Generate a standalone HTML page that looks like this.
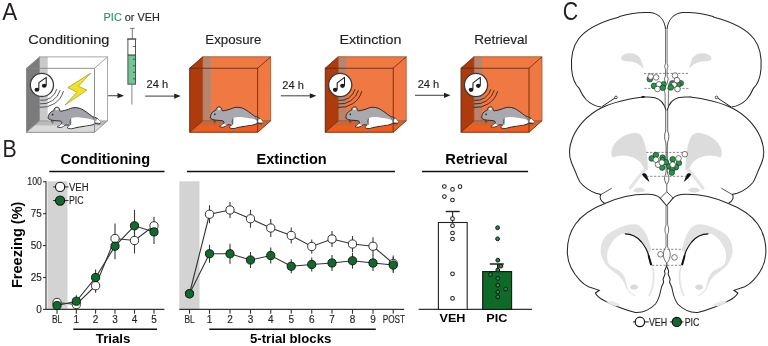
<!DOCTYPE html>
<html><head><meta charset="utf-8"><style>
html,body{margin:0;padding:0;background:#fff;}
body{width:768px;height:346px;overflow:hidden;}
svg{display:block;font-family:"Liberation Sans", sans-serif;will-change:transform;}
</style></head><body>
<svg width="768" height="346" viewBox="0 0 768 346">
<rect width="768" height="346" fill="#fff"/>
<text x="2.2" y="20.2" font-size="24" font-weight="normal" fill="#231f20" text-anchor="start" textLength="15.0" lengthAdjust="spacingAndGlyphs" >A</text>
<text x="28.2" y="43.8" font-size="13" font-weight="normal" fill="#231f20" text-anchor="start" textLength="81.2" lengthAdjust="spacingAndGlyphs" stroke="#231f20" stroke-width="0.15" >Conditioning</text>
<text x="205.3" y="43.8" font-size="13" font-weight="normal" fill="#231f20" text-anchor="start" textLength="56" lengthAdjust="spacingAndGlyphs" stroke="#231f20" stroke-width="0.15" >Exposure</text>
<text x="339.4" y="43.8" font-size="13" font-weight="normal" fill="#231f20" text-anchor="start" textLength="62" lengthAdjust="spacingAndGlyphs" stroke="#231f20" stroke-width="0.15" >Extinction</text>
<text x="474.3" y="43.8" font-size="13" font-weight="normal" fill="#231f20" text-anchor="start" textLength="53.3" lengthAdjust="spacingAndGlyphs" stroke="#231f20" stroke-width="0.15" >Retrieval</text>
<text x="103.6" y="21" font-size="11.8" fill="#231f20" stroke="#231f20" stroke-width="0.15" textLength="56.3" lengthAdjust="spacingAndGlyphs"><tspan fill="#2f9463" stroke="#2f9463">PIC</tspan> or VEH</text>
<text x="146.6" y="88.4" font-size="10.6" font-weight="normal" fill="#231f20" text-anchor="start" textLength="21.6" lengthAdjust="spacingAndGlyphs" stroke="#231f20" stroke-width="0.15" >24 h</text>
<text x="282.3" y="88.9" font-size="10.6" font-weight="normal" fill="#231f20" text-anchor="start" textLength="21.6" lengthAdjust="spacingAndGlyphs" stroke="#231f20" stroke-width="0.15" >24 h</text>
<text x="417.7" y="88.4" font-size="10.6" font-weight="normal" fill="#231f20" text-anchor="start" textLength="21.6" lengthAdjust="spacingAndGlyphs" stroke="#231f20" stroke-width="0.15" >24 h</text>
<line x1="108.2" y1="95.7" x2="119" y2="95.7" stroke="#4d4d4d" stroke-width="1.1"/>
<polygon points="117.5,93.10000000000001 124,95.7 117.5,98.3" fill="#231f20"/>
<line x1="145.1" y1="96.1" x2="175.7" y2="96.1" stroke="#4d4d4d" stroke-width="1.1"/>
<polygon points="174.2,93.5 180.7,96.1 174.2,98.69999999999999" fill="#231f20"/>
<line x1="280.8" y1="95.8" x2="311.3" y2="95.8" stroke="#4d4d4d" stroke-width="1.1"/>
<polygon points="309.8,93.2 316.3,95.8 309.8,98.39999999999999" fill="#231f20"/>
<line x1="415" y1="95.3" x2="445.5" y2="95.3" stroke="#4d4d4d" stroke-width="1.1"/>
<polygon points="444.0,92.7 450.5,95.3 444.0,97.89999999999999" fill="#231f20"/>
<g stroke="#555" stroke-width="0.8" fill="none">
<line x1="130.1" y1="28.4" x2="134.5" y2="28.4"/>
<line x1="132.3" y1="28.4" x2="132.3" y2="39"/>
</g>
<rect x="127.9" y="55" width="7.6" height="29.2" fill="#74c596"/>
<rect x="127.9" y="39" width="7.6" height="45.2" fill="none" stroke="#444" stroke-width="0.9"/>
<line x1="127" y1="39" x2="136.4" y2="39" stroke="#444" stroke-width="0.9"/>
<line x1="127.9" y1="55" x2="135.5" y2="55" stroke="#333" stroke-width="1"/>
<line x1="132.9" y1="46.5" x2="135.5" y2="46.5" stroke="#333" stroke-width="0.7"/>
<line x1="132.9" y1="59.3" x2="135.5" y2="59.3" stroke="#333" stroke-width="0.7"/>
<line x1="132.9" y1="65.8" x2="135.5" y2="65.8" stroke="#333" stroke-width="0.7"/>
<line x1="132.9" y1="72.3" x2="135.5" y2="72.3" stroke="#333" stroke-width="0.7"/>
<line x1="132.9" y1="78.8" x2="135.5" y2="78.8" stroke="#333" stroke-width="0.7"/>
<line x1="131.9" y1="84.2" x2="131.9" y2="104.5" stroke="#777" stroke-width="0.9"/>
<defs><linearGradient id="fl26" x1="0" y1="0" x2="0" y2="1"><stop offset="0" stop-color="#b9b9b9"/><stop offset="0.33" stop-color="#b9b9b9"/><stop offset="0.45" stop-color="#dadada"/><stop offset="1" stop-color="#dadada"/></linearGradient></defs>
<polygon points="26.5,68.3 39.5,56.9 107.5,56.9 107.5,120.9 94.5,132.3 26.5,132.3" fill="#ffffff"/>
<rect x="39.5" y="56.9" width="8.2" height="64" fill="#c9c9c9"/>
<polygon points="26.5,68.3 39.5,56.9 39.5,120.9 26.5,132.3" fill="#7b7b7d"/>
<polygon points="26.5,132.3 39.5,120.9 107.5,120.9 94.5,132.3" fill="url(#fl26)"/>
<rect x="39.5" y="56.9" width="68" height="64" fill="none" stroke="#8c8c8c" stroke-width="0.75"/>
<g stroke="#8a8a8a" stroke-width="0.8" fill="none">
<line x1="26.5" y1="68.3" x2="39.5" y2="56.9"/>
<line x1="94.5" y1="68.3" x2="107.5" y2="56.9"/>
<line x1="94.5" y1="132.3" x2="107.5" y2="120.9"/>
<line x1="26.5" y1="132.3" x2="39.5" y2="120.9"/>
</g>
<path d="M56.80,89.17 A15.5,15.5 0 0 1 40.28,100.32" fill="none" stroke="#333" stroke-width="0.8"/>
<path d="M60.16,90.14 A19,19 0 0 1 39.91,103.80" fill="none" stroke="#333" stroke-width="0.8"/>
<path d="M63.53,91.10 A22.5,22.5 0 0 1 39.55,107.28" fill="none" stroke="#333" stroke-width="0.8"/>
<circle cx="41.9" cy="84.9" r="11.6" fill="#fff" stroke="#3a3a3a" stroke-width="1.3"/>
<ellipse cx="36.9" cy="89.75" rx="2.35" ry="2.05" fill="#1a1a1a"/>
<ellipse cx="44.199999999999996" cy="85.75" rx="2.35" ry="2.05" fill="#1a1a1a"/>
<path d="M38.8,89.5 L38.9,82.7 L46.199999999999996,77.30000000000001 L46.199999999999996,85.5" fill="none" stroke="#1a1a1a" stroke-width="1.05" stroke-linejoin="round"/>
<polygon points="90.7,73.1 67.9,87.6 77,92.3 64.9,105.1 86.9,90.1 78.3,86.2" fill="#f2e41c" stroke="#8a8530" stroke-width="0.6" stroke-linejoin="round"/>
<path d="M48.20,117.40 C48.22,116.93 48.45,116.13 48.60,115.60 C48.75,115.07 48.75,114.77 49.10,114.20 C49.45,113.63 50.10,112.73 50.70,112.20 C51.30,111.67 52.18,111.30 52.70,111.00 C53.22,110.70 53.55,110.77 53.80,110.40 C54.05,110.03 53.93,109.27 54.20,108.80 C54.47,108.33 54.93,107.87 55.40,107.60 C55.87,107.33 56.47,107.17 57.00,107.20 C57.53,107.23 58.18,107.47 58.60,107.80 C59.02,108.13 59.30,108.73 59.50,109.20 C59.70,109.67 59.58,110.28 59.80,110.60 C60.02,110.92 60.03,111.12 60.80,111.10 C61.57,111.08 63.12,110.80 64.40,110.50 C65.68,110.20 67.13,109.75 68.50,109.30 C69.87,108.85 71.05,108.05 72.60,107.80 C74.15,107.55 76.07,107.47 77.80,107.80 C79.53,108.13 81.12,108.75 83.00,109.80 C84.88,110.85 87.50,112.97 89.10,114.10 C90.70,115.23 91.73,116.12 92.60,116.60 C93.47,117.08 93.43,116.62 94.30,117.00 C95.17,117.38 96.85,118.12 97.80,118.90 C98.75,119.68 99.70,120.85 100.00,121.70 C100.30,122.55 100.03,123.65 99.60,124.00 C99.17,124.35 98.13,123.87 97.40,123.80 C96.67,123.73 96.00,123.43 95.20,123.60 C94.40,123.77 94.20,124.40 92.60,124.80 C91.00,125.20 87.92,125.60 85.60,126.00 C83.28,126.40 80.52,126.87 78.70,127.20 C76.88,127.53 75.85,127.75 74.70,128.00 C73.55,128.25 72.87,128.63 71.80,128.70 C70.73,128.77 69.03,128.65 68.30,128.40 C67.57,128.15 67.22,127.67 67.40,127.20 C67.58,126.73 69.52,125.97 69.40,125.60 C69.28,125.23 67.37,125.07 66.70,125.00 C66.03,124.93 65.92,125.02 65.40,125.20 C64.88,125.38 64.30,125.75 63.60,126.10 C62.90,126.45 62.22,127.15 61.20,127.30 C60.18,127.45 58.00,127.15 57.50,127.00 C57.00,126.85 57.75,126.72 58.20,126.40 C58.65,126.08 59.60,125.72 60.20,125.10 C60.80,124.48 61.77,123.37 61.80,122.70 C61.83,122.03 61.32,121.43 60.40,121.10 C59.48,120.77 57.65,120.83 56.30,120.70 C54.95,120.57 53.43,120.50 52.30,120.30 C51.17,120.10 50.13,119.82 49.50,119.50 C48.87,119.18 48.72,118.75 48.50,118.40 C48.28,118.05 48.18,117.87 48.20,117.40 Z" fill="#a2a3ab" stroke="#1e1e1e" stroke-width="0.9" stroke-linejoin="round"/>
<path d="M70.90,118.70 C71.37,117.88 72.82,117.70 74.40,117.50 C75.98,117.30 78.23,117.32 80.40,117.50 C82.57,117.68 85.37,118.22 87.40,118.60 C89.43,118.98 91.22,119.40 92.60,119.80 C93.98,120.20 94.83,121.13 95.70,121.00 C96.57,120.87 97.02,118.87 97.80,119.00 C98.58,119.13 100.03,121.13 100.40,121.80 C100.77,122.47 100.43,122.90 100.00,123.00 C99.57,123.10 98.60,122.50 97.80,122.40 C97.00,122.30 96.10,122.10 95.20,122.40 C94.30,122.70 94.00,123.68 92.40,124.20 C90.80,124.72 87.88,125.10 85.60,125.50 C83.32,125.90 80.43,126.32 78.70,126.60 C76.97,126.88 76.35,126.92 75.20,127.20 C74.05,127.48 72.90,128.17 71.80,128.30 C70.70,128.43 69.25,128.20 68.60,128.00 C67.95,127.80 67.67,127.57 67.90,127.10 C68.13,126.63 69.38,125.98 70.00,125.20 C70.62,124.42 71.45,123.48 71.60,122.40 C71.75,121.32 70.43,119.52 70.90,118.70 Z" fill="#fff"/>
<polygon points="58.00,126.70 59.80,125.40 61.50,124.00 63.20,125.00 64.80,125.50 61.20,126.90" fill="#fff"/>
<path d="M70.90,118.70 Q69.20,121.90 70.60,125.00" fill="none" stroke="#2a2a2a" stroke-width="0.65"/>
<path d="M92.80,116.80 Q94.40,120.00 95.40,122.60" fill="none" stroke="#555" stroke-width="0.5"/>
<ellipse cx="56.90" cy="109.20" rx="1.9" ry="1.5" fill="#f4f4f4" stroke="#666" stroke-width="0.4"/>
<circle cx="52.60" cy="114.60" r="0.85" fill="#222"/>
<path d="M48.60,117.60 l-1.6,0.6 M49.60,118.40 l-1.2,1.5" stroke="#333" stroke-width="0.4"/>
<path d="M51.40,120.00 l1.0,3.6 M52.80,120.20 l0.4,2.6" stroke="#4a2a20" stroke-width="0.8" opacity="0.75"/>
<g stroke="#8a8a8a" stroke-width="0.95" fill="none">
<rect x="26.5" y="68.3" width="68" height="64"/>
</g>
<defs><linearGradient id="fl189" x1="0" y1="0" x2="0" y2="1"><stop offset="0" stop-color="#c4693e"/><stop offset="0.33" stop-color="#c4693e"/><stop offset="0.45" stop-color="#f25d1e"/><stop offset="1" stop-color="#f25d1e"/></linearGradient></defs>
<polygon points="189.7,68.2 202.7,56.800000000000004 270.7,56.800000000000004 270.7,120.79999999999998 257.7,132.2 189.7,132.2" fill="#f07843"/>
<rect x="202.7" y="56.800000000000004" width="8.2" height="64" fill="#b8846e"/>
<polygon points="189.7,68.2 202.7,56.800000000000004 202.7,120.79999999999998 189.7,132.2" fill="#ad3b0d"/>
<polygon points="189.7,132.2 202.7,120.79999999999998 270.7,120.79999999999998 257.7,132.2" fill="url(#fl189)"/>
<rect x="202.7" y="56.800000000000004" width="68" height="64" fill="none" stroke="#a3532c" stroke-width="0.75"/>
<g stroke="#5e2810" stroke-width="0.8" fill="none">
<line x1="189.7" y1="68.2" x2="202.7" y2="56.800000000000004"/>
<line x1="257.7" y1="68.2" x2="270.7" y2="56.800000000000004"/>
<line x1="257.7" y1="132.2" x2="270.7" y2="120.79999999999998"/>
<line x1="189.7" y1="132.2" x2="202.7" y2="120.79999999999998"/>
</g>
<path d="M210.40,117.10 C210.42,116.63 210.65,115.83 210.80,115.30 C210.95,114.77 210.95,114.47 211.30,113.90 C211.65,113.33 212.30,112.43 212.90,111.90 C213.50,111.37 214.38,111.00 214.90,110.70 C215.42,110.40 215.75,110.47 216.00,110.10 C216.25,109.73 216.13,108.97 216.40,108.50 C216.67,108.03 217.13,107.57 217.60,107.30 C218.07,107.03 218.67,106.87 219.20,106.90 C219.73,106.93 220.38,107.17 220.80,107.50 C221.22,107.83 221.50,108.43 221.70,108.90 C221.90,109.37 221.78,109.98 222.00,110.30 C222.22,110.62 222.23,110.82 223.00,110.80 C223.77,110.78 225.32,110.50 226.60,110.20 C227.88,109.90 229.33,109.45 230.70,109.00 C232.07,108.55 233.25,107.75 234.80,107.50 C236.35,107.25 238.27,107.17 240.00,107.50 C241.73,107.83 243.32,108.45 245.20,109.50 C247.08,110.55 249.70,112.67 251.30,113.80 C252.90,114.93 253.93,115.82 254.80,116.30 C255.67,116.78 255.63,116.32 256.50,116.70 C257.37,117.08 259.05,117.82 260.00,118.60 C260.95,119.38 261.90,120.55 262.20,121.40 C262.50,122.25 262.23,123.35 261.80,123.70 C261.37,124.05 260.33,123.57 259.60,123.50 C258.87,123.43 258.20,123.13 257.40,123.30 C256.60,123.47 256.40,124.10 254.80,124.50 C253.20,124.90 250.12,125.30 247.80,125.70 C245.48,126.10 242.72,126.57 240.90,126.90 C239.08,127.23 238.05,127.45 236.90,127.70 C235.75,127.95 235.07,128.33 234.00,128.40 C232.93,128.47 231.23,128.35 230.50,128.10 C229.77,127.85 229.42,127.37 229.60,126.90 C229.78,126.43 231.72,125.67 231.60,125.30 C231.48,124.93 229.57,124.77 228.90,124.70 C228.23,124.63 228.12,124.72 227.60,124.90 C227.08,125.08 226.50,125.45 225.80,125.80 C225.10,126.15 224.42,126.85 223.40,127.00 C222.38,127.15 220.20,126.85 219.70,126.70 C219.20,126.55 219.95,126.42 220.40,126.10 C220.85,125.78 221.80,125.42 222.40,124.80 C223.00,124.18 223.97,123.07 224.00,122.40 C224.03,121.73 223.52,121.13 222.60,120.80 C221.68,120.47 219.85,120.53 218.50,120.40 C217.15,120.27 215.63,120.20 214.50,120.00 C213.37,119.80 212.33,119.52 211.70,119.20 C211.07,118.88 210.92,118.45 210.70,118.10 C210.48,117.75 210.38,117.57 210.40,117.10 Z" fill="#a8a9ae" stroke="#1e1e1e" stroke-width="0.9" stroke-linejoin="round"/>
<path d="M233.10,118.40 C233.57,117.58 235.02,117.40 236.60,117.20 C238.18,117.00 240.43,117.02 242.60,117.20 C244.77,117.38 247.57,117.92 249.60,118.30 C251.63,118.68 253.42,119.10 254.80,119.50 C256.18,119.90 257.03,120.83 257.90,120.70 C258.77,120.57 259.22,118.57 260.00,118.70 C260.78,118.83 262.23,120.83 262.60,121.50 C262.97,122.17 262.63,122.60 262.20,122.70 C261.77,122.80 260.80,122.20 260.00,122.10 C259.20,122.00 258.30,121.80 257.40,122.10 C256.50,122.40 256.20,123.38 254.60,123.90 C253.00,124.42 250.08,124.80 247.80,125.20 C245.52,125.60 242.63,126.02 240.90,126.30 C239.17,126.58 238.55,126.62 237.40,126.90 C236.25,127.18 235.10,127.87 234.00,128.00 C232.90,128.13 231.45,127.90 230.80,127.70 C230.15,127.50 229.87,127.27 230.10,126.80 C230.33,126.33 231.58,125.68 232.20,124.90 C232.82,124.12 233.65,123.18 233.80,122.10 C233.95,121.02 232.63,119.22 233.10,118.40 Z" fill="#fff"/>
<polygon points="220.20,126.40 222.00,125.10 223.70,123.70 225.40,124.70 227.00,125.20 223.40,126.60" fill="#fff"/>
<path d="M233.10,118.40 Q231.40,121.60 232.80,124.70" fill="none" stroke="#2a2a2a" stroke-width="0.65"/>
<path d="M255.00,116.50 Q256.60,119.70 257.60,122.30" fill="none" stroke="#555" stroke-width="0.5"/>
<ellipse cx="219.10" cy="108.90" rx="1.9" ry="1.5" fill="#f4f4f4" stroke="#666" stroke-width="0.4"/>
<circle cx="214.80" cy="114.30" r="0.85" fill="#222"/>
<path d="M210.80,117.30 l-1.6,0.6 M211.80,118.10 l-1.2,1.5" stroke="#333" stroke-width="0.4"/>
<path d="M213.60,119.70 l1.0,3.6 M215.00,119.90 l0.4,2.6" stroke="#4a2a20" stroke-width="0.8" opacity="0.75"/>
<g stroke="#5e2810" stroke-width="0.85" fill="none">
<rect x="189.7" y="68.2" width="68" height="64"/>
</g>
<defs><linearGradient id="fl325" x1="0" y1="0" x2="0" y2="1"><stop offset="0" stop-color="#c4693e"/><stop offset="0.33" stop-color="#c4693e"/><stop offset="0.45" stop-color="#f25d1e"/><stop offset="1" stop-color="#f25d1e"/></linearGradient></defs>
<polygon points="325.2,68.2 338.2,56.800000000000004 406.2,56.800000000000004 406.2,120.79999999999998 393.2,132.2 325.2,132.2" fill="#f07843"/>
<rect x="338.2" y="56.800000000000004" width="8.2" height="64" fill="#b8846e"/>
<polygon points="325.2,68.2 338.2,56.800000000000004 338.2,120.79999999999998 325.2,132.2" fill="#ad3b0d"/>
<polygon points="325.2,132.2 338.2,120.79999999999998 406.2,120.79999999999998 393.2,132.2" fill="url(#fl325)"/>
<rect x="338.2" y="56.800000000000004" width="68" height="64" fill="none" stroke="#a3532c" stroke-width="0.75"/>
<g stroke="#5e2810" stroke-width="0.8" fill="none">
<line x1="325.2" y1="68.2" x2="338.2" y2="56.800000000000004"/>
<line x1="393.2" y1="68.2" x2="406.2" y2="56.800000000000004"/>
<line x1="393.2" y1="132.2" x2="406.2" y2="120.79999999999998"/>
<line x1="325.2" y1="132.2" x2="338.2" y2="120.79999999999998"/>
</g>
<path d="M355.10,89.27 A15.5,15.5 0 0 1 338.58,100.42" fill="none" stroke="#2b1208" stroke-width="0.8"/>
<path d="M358.46,90.24 A19,19 0 0 1 338.21,103.90" fill="none" stroke="#2b1208" stroke-width="0.8"/>
<path d="M361.83,91.20 A22.5,22.5 0 0 1 337.85,107.38" fill="none" stroke="#2b1208" stroke-width="0.8"/>
<circle cx="340.2" cy="85.0" r="11.6" fill="#fff" stroke="#3a3a3a" stroke-width="1.3"/>
<ellipse cx="335.2" cy="89.85" rx="2.35" ry="2.05" fill="#1a1a1a"/>
<ellipse cx="342.5" cy="85.85" rx="2.35" ry="2.05" fill="#1a1a1a"/>
<path d="M337.09999999999997,89.6 L337.2,82.8 L344.5,77.4 L344.5,85.6" fill="none" stroke="#1a1a1a" stroke-width="1.05" stroke-linejoin="round"/>
<path d="M345.90,117.10 C345.92,116.63 346.15,115.83 346.30,115.30 C346.45,114.77 346.45,114.47 346.80,113.90 C347.15,113.33 347.80,112.43 348.40,111.90 C349.00,111.37 349.88,111.00 350.40,110.70 C350.92,110.40 351.25,110.47 351.50,110.10 C351.75,109.73 351.63,108.97 351.90,108.50 C352.17,108.03 352.63,107.57 353.10,107.30 C353.57,107.03 354.17,106.87 354.70,106.90 C355.23,106.93 355.88,107.17 356.30,107.50 C356.72,107.83 357.00,108.43 357.20,108.90 C357.40,109.37 357.28,109.98 357.50,110.30 C357.72,110.62 357.73,110.82 358.50,110.80 C359.27,110.78 360.82,110.50 362.10,110.20 C363.38,109.90 364.83,109.45 366.20,109.00 C367.57,108.55 368.75,107.75 370.30,107.50 C371.85,107.25 373.77,107.17 375.50,107.50 C377.23,107.83 378.82,108.45 380.70,109.50 C382.58,110.55 385.20,112.67 386.80,113.80 C388.40,114.93 389.43,115.82 390.30,116.30 C391.17,116.78 391.13,116.32 392.00,116.70 C392.87,117.08 394.55,117.82 395.50,118.60 C396.45,119.38 397.40,120.55 397.70,121.40 C398.00,122.25 397.73,123.35 397.30,123.70 C396.87,124.05 395.83,123.57 395.10,123.50 C394.37,123.43 393.70,123.13 392.90,123.30 C392.10,123.47 391.90,124.10 390.30,124.50 C388.70,124.90 385.62,125.30 383.30,125.70 C380.98,126.10 378.22,126.57 376.40,126.90 C374.58,127.23 373.55,127.45 372.40,127.70 C371.25,127.95 370.57,128.33 369.50,128.40 C368.43,128.47 366.73,128.35 366.00,128.10 C365.27,127.85 364.92,127.37 365.10,126.90 C365.28,126.43 367.22,125.67 367.10,125.30 C366.98,124.93 365.07,124.77 364.40,124.70 C363.73,124.63 363.62,124.72 363.10,124.90 C362.58,125.08 362.00,125.45 361.30,125.80 C360.60,126.15 359.92,126.85 358.90,127.00 C357.88,127.15 355.70,126.85 355.20,126.70 C354.70,126.55 355.45,126.42 355.90,126.10 C356.35,125.78 357.30,125.42 357.90,124.80 C358.50,124.18 359.47,123.07 359.50,122.40 C359.53,121.73 359.02,121.13 358.10,120.80 C357.18,120.47 355.35,120.53 354.00,120.40 C352.65,120.27 351.13,120.20 350.00,120.00 C348.87,119.80 347.83,119.52 347.20,119.20 C346.57,118.88 346.42,118.45 346.20,118.10 C345.98,117.75 345.88,117.57 345.90,117.10 Z" fill="#a8a9ae" stroke="#1e1e1e" stroke-width="0.9" stroke-linejoin="round"/>
<path d="M368.60,118.40 C369.07,117.58 370.52,117.40 372.10,117.20 C373.68,117.00 375.93,117.02 378.10,117.20 C380.27,117.38 383.07,117.92 385.10,118.30 C387.13,118.68 388.92,119.10 390.30,119.50 C391.68,119.90 392.53,120.83 393.40,120.70 C394.27,120.57 394.72,118.57 395.50,118.70 C396.28,118.83 397.73,120.83 398.10,121.50 C398.47,122.17 398.13,122.60 397.70,122.70 C397.27,122.80 396.30,122.20 395.50,122.10 C394.70,122.00 393.80,121.80 392.90,122.10 C392.00,122.40 391.70,123.38 390.10,123.90 C388.50,124.42 385.58,124.80 383.30,125.20 C381.02,125.60 378.13,126.02 376.40,126.30 C374.67,126.58 374.05,126.62 372.90,126.90 C371.75,127.18 370.60,127.87 369.50,128.00 C368.40,128.13 366.95,127.90 366.30,127.70 C365.65,127.50 365.37,127.27 365.60,126.80 C365.83,126.33 367.08,125.68 367.70,124.90 C368.32,124.12 369.15,123.18 369.30,122.10 C369.45,121.02 368.13,119.22 368.60,118.40 Z" fill="#fff"/>
<polygon points="355.70,126.40 357.50,125.10 359.20,123.70 360.90,124.70 362.50,125.20 358.90,126.60" fill="#fff"/>
<path d="M368.60,118.40 Q366.90,121.60 368.30,124.70" fill="none" stroke="#2a2a2a" stroke-width="0.65"/>
<path d="M390.50,116.50 Q392.10,119.70 393.10,122.30" fill="none" stroke="#555" stroke-width="0.5"/>
<ellipse cx="354.60" cy="108.90" rx="1.9" ry="1.5" fill="#f4f4f4" stroke="#666" stroke-width="0.4"/>
<circle cx="350.30" cy="114.30" r="0.85" fill="#222"/>
<path d="M346.30,117.30 l-1.6,0.6 M347.30,118.10 l-1.2,1.5" stroke="#333" stroke-width="0.4"/>
<path d="M349.10,119.70 l1.0,3.6 M350.50,119.90 l0.4,2.6" stroke="#4a2a20" stroke-width="0.8" opacity="0.75"/>
<g stroke="#5e2810" stroke-width="0.85" fill="none">
<rect x="325.2" y="68.2" width="68" height="64"/>
</g>
<defs><linearGradient id="fl461" x1="0" y1="0" x2="0" y2="1"><stop offset="0" stop-color="#c4693e"/><stop offset="0.33" stop-color="#c4693e"/><stop offset="0.45" stop-color="#f25d1e"/><stop offset="1" stop-color="#f25d1e"/></linearGradient></defs>
<polygon points="461.0,68.2 474.0,56.800000000000004 542.0,56.800000000000004 542.0,120.79999999999998 529.0,132.2 461.0,132.2" fill="#f07843"/>
<rect x="474.0" y="56.800000000000004" width="8.2" height="64" fill="#b8846e"/>
<polygon points="461.0,68.2 474.0,56.800000000000004 474.0,120.79999999999998 461.0,132.2" fill="#ad3b0d"/>
<polygon points="461.0,132.2 474.0,120.79999999999998 542.0,120.79999999999998 529.0,132.2" fill="url(#fl461)"/>
<rect x="474.0" y="56.800000000000004" width="68" height="64" fill="none" stroke="#a3532c" stroke-width="0.75"/>
<g stroke="#5e2810" stroke-width="0.8" fill="none">
<line x1="461.0" y1="68.2" x2="474.0" y2="56.800000000000004"/>
<line x1="529.0" y1="68.2" x2="542.0" y2="56.800000000000004"/>
<line x1="529.0" y1="132.2" x2="542.0" y2="120.79999999999998"/>
<line x1="461.0" y1="132.2" x2="474.0" y2="120.79999999999998"/>
</g>
<path d="M490.90,89.27 A15.5,15.5 0 0 1 474.38,100.42" fill="none" stroke="#2b1208" stroke-width="0.8"/>
<path d="M494.26,90.24 A19,19 0 0 1 474.01,103.90" fill="none" stroke="#2b1208" stroke-width="0.8"/>
<path d="M497.63,91.20 A22.5,22.5 0 0 1 473.65,107.38" fill="none" stroke="#2b1208" stroke-width="0.8"/>
<circle cx="476.0" cy="85.0" r="11.6" fill="#fff" stroke="#3a3a3a" stroke-width="1.3"/>
<ellipse cx="471.0" cy="89.85" rx="2.35" ry="2.05" fill="#1a1a1a"/>
<ellipse cx="478.3" cy="85.85" rx="2.35" ry="2.05" fill="#1a1a1a"/>
<path d="M472.9,89.6 L473.0,82.8 L480.3,77.4 L480.3,85.6" fill="none" stroke="#1a1a1a" stroke-width="1.05" stroke-linejoin="round"/>
<path d="M481.70,117.10 C481.72,116.63 481.95,115.83 482.10,115.30 C482.25,114.77 482.25,114.47 482.60,113.90 C482.95,113.33 483.60,112.43 484.20,111.90 C484.80,111.37 485.68,111.00 486.20,110.70 C486.72,110.40 487.05,110.47 487.30,110.10 C487.55,109.73 487.43,108.97 487.70,108.50 C487.97,108.03 488.43,107.57 488.90,107.30 C489.37,107.03 489.97,106.87 490.50,106.90 C491.03,106.93 491.68,107.17 492.10,107.50 C492.52,107.83 492.80,108.43 493.00,108.90 C493.20,109.37 493.08,109.98 493.30,110.30 C493.52,110.62 493.53,110.82 494.30,110.80 C495.07,110.78 496.62,110.50 497.90,110.20 C499.18,109.90 500.63,109.45 502.00,109.00 C503.37,108.55 504.55,107.75 506.10,107.50 C507.65,107.25 509.57,107.17 511.30,107.50 C513.03,107.83 514.62,108.45 516.50,109.50 C518.38,110.55 521.00,112.67 522.60,113.80 C524.20,114.93 525.23,115.82 526.10,116.30 C526.97,116.78 526.93,116.32 527.80,116.70 C528.67,117.08 530.35,117.82 531.30,118.60 C532.25,119.38 533.20,120.55 533.50,121.40 C533.80,122.25 533.53,123.35 533.10,123.70 C532.67,124.05 531.63,123.57 530.90,123.50 C530.17,123.43 529.50,123.13 528.70,123.30 C527.90,123.47 527.70,124.10 526.10,124.50 C524.50,124.90 521.42,125.30 519.10,125.70 C516.78,126.10 514.02,126.57 512.20,126.90 C510.38,127.23 509.35,127.45 508.20,127.70 C507.05,127.95 506.37,128.33 505.30,128.40 C504.23,128.47 502.53,128.35 501.80,128.10 C501.07,127.85 500.72,127.37 500.90,126.90 C501.08,126.43 503.02,125.67 502.90,125.30 C502.78,124.93 500.87,124.77 500.20,124.70 C499.53,124.63 499.42,124.72 498.90,124.90 C498.38,125.08 497.80,125.45 497.10,125.80 C496.40,126.15 495.72,126.85 494.70,127.00 C493.68,127.15 491.50,126.85 491.00,126.70 C490.50,126.55 491.25,126.42 491.70,126.10 C492.15,125.78 493.10,125.42 493.70,124.80 C494.30,124.18 495.27,123.07 495.30,122.40 C495.33,121.73 494.82,121.13 493.90,120.80 C492.98,120.47 491.15,120.53 489.80,120.40 C488.45,120.27 486.93,120.20 485.80,120.00 C484.67,119.80 483.63,119.52 483.00,119.20 C482.37,118.88 482.22,118.45 482.00,118.10 C481.78,117.75 481.68,117.57 481.70,117.10 Z" fill="#a8a9ae" stroke="#1e1e1e" stroke-width="0.9" stroke-linejoin="round"/>
<path d="M504.40,118.40 C504.87,117.58 506.32,117.40 507.90,117.20 C509.48,117.00 511.73,117.02 513.90,117.20 C516.07,117.38 518.87,117.92 520.90,118.30 C522.93,118.68 524.72,119.10 526.10,119.50 C527.48,119.90 528.33,120.83 529.20,120.70 C530.07,120.57 530.52,118.57 531.30,118.70 C532.08,118.83 533.53,120.83 533.90,121.50 C534.27,122.17 533.93,122.60 533.50,122.70 C533.07,122.80 532.10,122.20 531.30,122.10 C530.50,122.00 529.60,121.80 528.70,122.10 C527.80,122.40 527.50,123.38 525.90,123.90 C524.30,124.42 521.38,124.80 519.10,125.20 C516.82,125.60 513.93,126.02 512.20,126.30 C510.47,126.58 509.85,126.62 508.70,126.90 C507.55,127.18 506.40,127.87 505.30,128.00 C504.20,128.13 502.75,127.90 502.10,127.70 C501.45,127.50 501.17,127.27 501.40,126.80 C501.63,126.33 502.88,125.68 503.50,124.90 C504.12,124.12 504.95,123.18 505.10,122.10 C505.25,121.02 503.93,119.22 504.40,118.40 Z" fill="#fff"/>
<polygon points="491.50,126.40 493.30,125.10 495.00,123.70 496.70,124.70 498.30,125.20 494.70,126.60" fill="#fff"/>
<path d="M504.40,118.40 Q502.70,121.60 504.10,124.70" fill="none" stroke="#2a2a2a" stroke-width="0.65"/>
<path d="M526.30,116.50 Q527.90,119.70 528.90,122.30" fill="none" stroke="#555" stroke-width="0.5"/>
<ellipse cx="490.40" cy="108.90" rx="1.9" ry="1.5" fill="#f4f4f4" stroke="#666" stroke-width="0.4"/>
<circle cx="486.10" cy="114.30" r="0.85" fill="#222"/>
<path d="M482.10,117.30 l-1.6,0.6 M483.10,118.10 l-1.2,1.5" stroke="#333" stroke-width="0.4"/>
<path d="M484.90,119.70 l1.0,3.6 M486.30,119.90 l0.4,2.6" stroke="#4a2a20" stroke-width="0.8" opacity="0.75"/>
<g stroke="#5e2810" stroke-width="0.85" fill="none">
<rect x="461.0" y="68.2" width="68" height="64"/>
</g>
<text x="2.4" y="157.4" font-size="24" font-weight="normal" fill="#231f20" text-anchor="start" textLength="14.2" lengthAdjust="spacingAndGlyphs" >B</text>
<text x="60.5" y="164.3" font-size="14.3" font-weight="bold" fill="#000" text-anchor="start" textLength="89.6" lengthAdjust="spacingAndGlyphs" >Conditioning</text>
<text x="256.5" y="164.3" font-size="14.3" font-weight="bold" fill="#000" text-anchor="start" textLength="70.2" lengthAdjust="spacingAndGlyphs" >Extinction</text>
<text x="445.3" y="164.3" font-size="14.3" font-weight="bold" fill="#000" text-anchor="start" textLength="62.2" lengthAdjust="spacingAndGlyphs" >Retrieval</text>
<line x1="49.3" y1="171.5" x2="164.5" y2="171.5" stroke="#111" stroke-width="1.4"/>
<line x1="187" y1="171.5" x2="395" y2="171.5" stroke="#111" stroke-width="1.4"/>
<line x1="422" y1="171.5" x2="528.1" y2="171.5" stroke="#111" stroke-width="1.4"/>
<line x1="73.3" y1="329.2" x2="157" y2="329.2" stroke="#111" stroke-width="1.6"/>
<line x1="209.3" y1="329.2" x2="375.8" y2="329.2" stroke="#111" stroke-width="1.6"/>
<text x="95.8" y="342.6" font-size="12.5" font-weight="bold" fill="#000" text-anchor="start" textLength="34.6" lengthAdjust="spacingAndGlyphs" >Trials</text>
<text x="250" y="342.6" font-size="12.5" font-weight="bold" fill="#000" text-anchor="start" textLength="81.3" lengthAdjust="spacingAndGlyphs" >5-trial blocks</text>
<text x="439.5" y="322.2" font-size="11.5" font-weight="bold" fill="#000" text-anchor="start" textLength="26" lengthAdjust="spacingAndGlyphs" >VEH</text>
<text x="486.3" y="322.2" font-size="11.5" font-weight="bold" fill="#000" text-anchor="start" textLength="21.2" lengthAdjust="spacingAndGlyphs" >PIC</text>
<text transform="translate(22.1,244.8) rotate(-90)" font-size="15" font-weight="bold" fill="#000" text-anchor="middle" textLength="86.5" lengthAdjust="spacingAndGlyphs">Freezing (%)</text>
<rect x="47.5" y="181.3" width="20" height="128.1" fill="#d3d3d3"/>
<rect x="179.3" y="181.3" width="20.2" height="128.1" fill="#d3d3d3"/>
<g stroke="#333" stroke-width="1.1" fill="none">
<line x1="46" y1="181.2" x2="46" y2="309.4"/>
<line x1="45.5" y1="309.4" x2="164.4" y2="309.4"/>
<line x1="179.3" y1="309.4" x2="404.2" y2="309.4"/>
<line x1="418.7" y1="309.4" x2="532" y2="309.4"/>
<line x1="43" y1="309.40" x2="46" y2="309.40"/>
<line x1="43" y1="277.49" x2="46" y2="277.49"/>
<line x1="43" y1="245.57" x2="46" y2="245.57"/>
<line x1="43" y1="213.66" x2="46" y2="213.66"/>
<line x1="43" y1="181.75" x2="46" y2="181.75"/>
<line x1="57" y1="309.4" x2="57" y2="313.8"/>
<line x1="76.3" y1="309.4" x2="76.3" y2="313.8"/>
<line x1="95.6" y1="309.4" x2="95.6" y2="313.8"/>
<line x1="115" y1="309.4" x2="115" y2="313.8"/>
<line x1="134.5" y1="309.4" x2="134.5" y2="313.8"/>
<line x1="154" y1="309.4" x2="154" y2="313.8"/>
<line x1="189.5" y1="309.4" x2="189.5" y2="313.8"/>
<line x1="209.5" y1="309.4" x2="209.5" y2="313.8"/>
<line x1="230" y1="309.4" x2="230" y2="313.8"/>
<line x1="250.5" y1="309.4" x2="250.5" y2="313.8"/>
<line x1="270.75" y1="309.4" x2="270.75" y2="313.8"/>
<line x1="291.25" y1="309.4" x2="291.25" y2="313.8"/>
<line x1="311.75" y1="309.4" x2="311.75" y2="313.8"/>
<line x1="332" y1="309.4" x2="332" y2="313.8"/>
<line x1="352.5" y1="309.4" x2="352.5" y2="313.8"/>
<line x1="373" y1="309.4" x2="373" y2="313.8"/>
<line x1="393.25" y1="309.4" x2="393.25" y2="313.8"/>
</g>
<text x="41.9" y="313.09999999999997" font-size="10" font-weight="normal" fill="#231f20" text-anchor="end" stroke="#231f20" stroke-width="0.15" >0</text>
<text x="41.9" y="281.18749999999994" font-size="10" font-weight="normal" fill="#231f20" text-anchor="end" stroke="#231f20" stroke-width="0.15" >25</text>
<text x="41.9" y="249.27499999999998" font-size="10" font-weight="normal" fill="#231f20" text-anchor="end" stroke="#231f20" stroke-width="0.15" >50</text>
<text x="41.9" y="217.36249999999995" font-size="10" font-weight="normal" fill="#231f20" text-anchor="end" stroke="#231f20" stroke-width="0.15" >75</text>
<text x="41.9" y="185.45" font-size="10" font-weight="normal" fill="#231f20" text-anchor="end" textLength="14.6" lengthAdjust="spacingAndGlyphs" stroke="#231f20" stroke-width="0.15" >100</text>
<text x="57" y="323.1" font-size="10" font-weight="normal" fill="#231f20" text-anchor="middle" textLength="10.2" lengthAdjust="spacingAndGlyphs" stroke="#231f20" stroke-width="0.15" >BL</text>
<text x="76.3" y="323.1" font-size="10" font-weight="normal" fill="#231f20" text-anchor="middle" stroke="#231f20" stroke-width="0.15" >1</text>
<text x="95.6" y="323.1" font-size="10" font-weight="normal" fill="#231f20" text-anchor="middle" stroke="#231f20" stroke-width="0.15" >2</text>
<text x="115" y="323.1" font-size="10" font-weight="normal" fill="#231f20" text-anchor="middle" stroke="#231f20" stroke-width="0.15" >3</text>
<text x="134.5" y="323.1" font-size="10" font-weight="normal" fill="#231f20" text-anchor="middle" stroke="#231f20" stroke-width="0.15" >4</text>
<text x="154" y="323.1" font-size="10" font-weight="normal" fill="#231f20" text-anchor="middle" stroke="#231f20" stroke-width="0.15" >5</text>
<text x="189.5" y="323.1" font-size="10" font-weight="normal" fill="#231f20" text-anchor="middle" textLength="10.2" lengthAdjust="spacingAndGlyphs" stroke="#231f20" stroke-width="0.15" >BL</text>
<text x="209.5" y="323.1" font-size="10" font-weight="normal" fill="#231f20" text-anchor="middle" stroke="#231f20" stroke-width="0.15" >1</text>
<text x="230" y="323.1" font-size="10" font-weight="normal" fill="#231f20" text-anchor="middle" stroke="#231f20" stroke-width="0.15" >2</text>
<text x="250.5" y="323.1" font-size="10" font-weight="normal" fill="#231f20" text-anchor="middle" stroke="#231f20" stroke-width="0.15" >3</text>
<text x="270.75" y="323.1" font-size="10" font-weight="normal" fill="#231f20" text-anchor="middle" stroke="#231f20" stroke-width="0.15" >4</text>
<text x="291.25" y="323.1" font-size="10" font-weight="normal" fill="#231f20" text-anchor="middle" stroke="#231f20" stroke-width="0.15" >5</text>
<text x="311.75" y="323.1" font-size="10" font-weight="normal" fill="#231f20" text-anchor="middle" stroke="#231f20" stroke-width="0.15" >6</text>
<text x="332" y="323.1" font-size="10" font-weight="normal" fill="#231f20" text-anchor="middle" stroke="#231f20" stroke-width="0.15" >7</text>
<text x="352.5" y="323.1" font-size="10" font-weight="normal" fill="#231f20" text-anchor="middle" stroke="#231f20" stroke-width="0.15" >8</text>
<text x="373" y="323.1" font-size="10" font-weight="normal" fill="#231f20" text-anchor="middle" stroke="#231f20" stroke-width="0.15" >9</text>
<text x="393.85" y="323.1" font-size="10" font-weight="normal" fill="#231f20" text-anchor="middle" textLength="22.4" lengthAdjust="spacingAndGlyphs" stroke="#231f20" stroke-width="0.15" >POST</text>
<g stroke="#3a3a3a" stroke-width="1.1">
<line x1="57" y1="299.5" x2="57" y2="305.5"/>
<line x1="76.3" y1="300.5" x2="76.3" y2="308.5"/>
<line x1="95.6" y1="279.75" x2="95.6" y2="292.75"/>
<line x1="115" y1="223.5" x2="115" y2="250.5"/>
<line x1="134.5" y1="229.5" x2="134.5" y2="253.5"/>
<line x1="154" y1="216.8" x2="154" y2="234.8"/>
<line x1="57" y1="302.5" x2="57" y2="308.5"/>
<line x1="76.3" y1="295.25" x2="76.3" y2="306.25"/>
<line x1="95.6" y1="269.5" x2="95.6" y2="285.5"/>
<line x1="115" y1="234.2" x2="115" y2="259.2"/>
<line x1="134.5" y1="209.8" x2="134.5" y2="237.8"/>
<line x1="154" y1="221.9" x2="154" y2="243.9"/>
</g>
<polyline points="57,302.5 76.3,304.5 95.6,285.75 115,238.5 134.5,240.5 154,225.8" fill="none" stroke="#333" stroke-width="1.1"/>
<polyline points="57,305.5 76.3,301.25 95.6,277.5 115,246.2 134.5,225.8 154,231.9" fill="none" stroke="#333" stroke-width="1.1"/>
<circle cx="57" cy="302.5" r="4.1" fill="#fff" stroke="#222" stroke-width="0.9"/>
<circle cx="76.3" cy="304.5" r="4.1" fill="#fff" stroke="#222" stroke-width="0.9"/>
<circle cx="95.6" cy="285.75" r="4.1" fill="#fff" stroke="#222" stroke-width="0.9"/>
<circle cx="115" cy="238.5" r="4.1" fill="#fff" stroke="#222" stroke-width="0.9"/>
<circle cx="134.5" cy="240.5" r="4.1" fill="#fff" stroke="#222" stroke-width="0.9"/>
<circle cx="154" cy="225.8" r="4.1" fill="#fff" stroke="#222" stroke-width="0.9"/>
<circle cx="57" cy="305.5" r="4.1" fill="#0f6a2c" stroke="#111" stroke-width="0.9"/>
<circle cx="76.3" cy="301.25" r="4.1" fill="#0f6a2c" stroke="#111" stroke-width="0.9"/>
<circle cx="95.6" cy="277.5" r="4.1" fill="#0f6a2c" stroke="#111" stroke-width="0.9"/>
<circle cx="115" cy="246.2" r="4.1" fill="#0f6a2c" stroke="#111" stroke-width="0.9"/>
<circle cx="134.5" cy="225.8" r="4.1" fill="#0f6a2c" stroke="#111" stroke-width="0.9"/>
<circle cx="154" cy="231.9" r="4.1" fill="#0f6a2c" stroke="#111" stroke-width="0.9"/>
<g stroke="#3a3a3a" stroke-width="1.1">
<line x1="189.5" y1="290.75" x2="189.5" y2="296.75"/>
<line x1="209.5" y1="205.25" x2="209.5" y2="223.25"/>
<line x1="230" y1="202" x2="230" y2="218"/>
<line x1="250.5" y1="209.75" x2="250.5" y2="227.75"/>
<line x1="270.75" y1="219" x2="270.75" y2="237"/>
<line x1="291.25" y1="227.5" x2="291.25" y2="243.5"/>
<line x1="311.75" y1="239.5" x2="311.75" y2="253.5"/>
<line x1="332" y1="231" x2="332" y2="247"/>
<line x1="352.5" y1="236" x2="352.5" y2="252"/>
<line x1="373" y1="237.25" x2="373" y2="255.25"/>
<line x1="393.25" y1="255.5" x2="393.25" y2="271.5"/>
<line x1="189.5" y1="290.75" x2="189.5" y2="296.75"/>
<line x1="209.5" y1="244.75" x2="209.5" y2="262.75"/>
<line x1="230" y1="243.75" x2="230" y2="263.75"/>
<line x1="250.5" y1="252" x2="250.5" y2="268"/>
<line x1="270.75" y1="247.5" x2="270.75" y2="263.5"/>
<line x1="291.25" y1="259.25" x2="291.25" y2="273.25"/>
<line x1="311.75" y1="257.5" x2="311.75" y2="271.5"/>
<line x1="332" y1="255" x2="332" y2="271"/>
<line x1="352.5" y1="252.75" x2="352.5" y2="268.75"/>
<line x1="373" y1="255" x2="373" y2="271"/>
<line x1="393.25" y1="257" x2="393.25" y2="273"/>
</g>
<polyline points="189.5,293.75 209.5,214.25 230,210 250.5,218.75 270.75,228 291.25,235.5 311.75,246.5 332,239 352.5,244 373,246.25 393.25,263.5" fill="none" stroke="#333" stroke-width="1.1"/>
<polyline points="189.5,293.75 209.5,253.75 230,253.75 250.5,260 270.75,255.5 291.25,266.25 311.75,264.5 332,263 352.5,260.75 373,263 393.25,265" fill="none" stroke="#333" stroke-width="1.1"/>
<circle cx="189.5" cy="293.75" r="4.1" fill="#fff" stroke="#222" stroke-width="0.9"/>
<circle cx="209.5" cy="214.25" r="4.1" fill="#fff" stroke="#222" stroke-width="0.9"/>
<circle cx="230" cy="210" r="4.1" fill="#fff" stroke="#222" stroke-width="0.9"/>
<circle cx="250.5" cy="218.75" r="4.1" fill="#fff" stroke="#222" stroke-width="0.9"/>
<circle cx="270.75" cy="228" r="4.1" fill="#fff" stroke="#222" stroke-width="0.9"/>
<circle cx="291.25" cy="235.5" r="4.1" fill="#fff" stroke="#222" stroke-width="0.9"/>
<circle cx="311.75" cy="246.5" r="4.1" fill="#fff" stroke="#222" stroke-width="0.9"/>
<circle cx="332" cy="239" r="4.1" fill="#fff" stroke="#222" stroke-width="0.9"/>
<circle cx="352.5" cy="244" r="4.1" fill="#fff" stroke="#222" stroke-width="0.9"/>
<circle cx="373" cy="246.25" r="4.1" fill="#fff" stroke="#222" stroke-width="0.9"/>
<circle cx="393.25" cy="263.5" r="4.1" fill="#fff" stroke="#222" stroke-width="0.9"/>
<circle cx="189.5" cy="293.75" r="4.1" fill="#0f6a2c" stroke="#111" stroke-width="0.9"/>
<circle cx="209.5" cy="253.75" r="4.1" fill="#0f6a2c" stroke="#111" stroke-width="0.9"/>
<circle cx="230" cy="253.75" r="4.1" fill="#0f6a2c" stroke="#111" stroke-width="0.9"/>
<circle cx="250.5" cy="260" r="4.1" fill="#0f6a2c" stroke="#111" stroke-width="0.9"/>
<circle cx="270.75" cy="255.5" r="4.1" fill="#0f6a2c" stroke="#111" stroke-width="0.9"/>
<circle cx="291.25" cy="266.25" r="4.1" fill="#0f6a2c" stroke="#111" stroke-width="0.9"/>
<circle cx="311.75" cy="264.5" r="4.1" fill="#0f6a2c" stroke="#111" stroke-width="0.9"/>
<circle cx="332" cy="263" r="4.1" fill="#0f6a2c" stroke="#111" stroke-width="0.9"/>
<circle cx="352.5" cy="260.75" r="4.1" fill="#0f6a2c" stroke="#111" stroke-width="0.9"/>
<circle cx="373" cy="263" r="4.1" fill="#0f6a2c" stroke="#111" stroke-width="0.9"/>
<circle cx="393.25" cy="265" r="4.1" fill="#0f6a2c" stroke="#111" stroke-width="0.9"/>
<line x1="53.2" y1="186.9" x2="68.5" y2="186.9" stroke="#222" stroke-width="1"/>
<circle cx="60.1" cy="186.9" r="4.6" fill="#fff" stroke="#111" stroke-width="1.1"/>
<line x1="53.2" y1="200.6" x2="68.5" y2="200.6" stroke="#222" stroke-width="1"/>
<circle cx="60.1" cy="200.6" r="4.6" fill="#0f6a2c" stroke="#111" stroke-width="1.1"/>
<text x="69.0" y="190.5" font-size="10" font-weight="normal" fill="#231f20" text-anchor="start" textLength="19.6" lengthAdjust="spacingAndGlyphs" stroke="#231f20" stroke-width="0.15" >VEH</text>
<text x="69.0" y="203.9" font-size="10" font-weight="normal" fill="#231f20" text-anchor="start" textLength="14.6" lengthAdjust="spacingAndGlyphs" stroke="#231f20" stroke-width="0.15" >PIC</text>
<rect x="438.4" y="222.5" width="28.8" height="86.9" fill="#fff" stroke="#222" stroke-width="1.1"/>
<line x1="452.6" y1="211.5" x2="452.6" y2="222.5" stroke="#222" stroke-width="1.1"/>
<line x1="445.7" y1="211.5" x2="459.7" y2="211.5" stroke="#222" stroke-width="1.4"/>
<rect x="482.7" y="271.6" width="28.9" height="37.8" fill="#0f6a29" stroke="#111" stroke-width="1.1"/>
<line x1="497.8" y1="264" x2="497.8" y2="271.6" stroke="#111" stroke-width="1.6"/>
<line x1="489.8" y1="264" x2="503.8" y2="264" stroke="#111" stroke-width="1.4"/>
<circle cx="444.3" cy="186.5" r="1.85" fill="#fff" stroke="#222" stroke-width="1.05"/>
<circle cx="452.5" cy="189.4" r="1.85" fill="#fff" stroke="#222" stroke-width="1.05"/>
<circle cx="460" cy="186.7" r="1.85" fill="#fff" stroke="#222" stroke-width="1.05"/>
<circle cx="444.4" cy="196.6" r="1.85" fill="#fff" stroke="#222" stroke-width="1.05"/>
<circle cx="452.5" cy="200" r="1.85" fill="#fff" stroke="#222" stroke-width="1.05"/>
<circle cx="452.5" cy="218.7" r="1.85" fill="#fff" stroke="#222" stroke-width="1.05"/>
<circle cx="452.5" cy="225.7" r="1.85" fill="#fff" stroke="#222" stroke-width="1.05"/>
<circle cx="452.5" cy="233" r="1.85" fill="#fff" stroke="#222" stroke-width="1.05"/>
<circle cx="452.5" cy="239" r="1.85" fill="#fff" stroke="#222" stroke-width="1.05"/>
<circle cx="452.5" cy="273.8" r="1.85" fill="#fff" stroke="#222" stroke-width="1.05"/>
<circle cx="452.5" cy="298.4" r="1.85" fill="#fff" stroke="#222" stroke-width="1.05"/>
<circle cx="497.6" cy="227.7" r="1.9" fill="#24934a" stroke="#111" stroke-width="1.0"/>
<circle cx="497.6" cy="238.8" r="1.9" fill="#24934a" stroke="#111" stroke-width="1.0"/>
<circle cx="497.8" cy="260.2" r="1.9" fill="#24934a" stroke="#111" stroke-width="1.0"/>
<circle cx="500.9" cy="266.1" r="1.9" fill="#24934a" stroke="#111" stroke-width="1.0"/>
<circle cx="497.8" cy="270" r="1.9" fill="#24934a" stroke="#111" stroke-width="1.0"/>
<circle cx="490.5" cy="274.5" r="1.9" fill="#24934a" stroke="#111" stroke-width="1.0"/>
<circle cx="497.8" cy="278.4" r="1.9" fill="#24934a" stroke="#111" stroke-width="1.0"/>
<circle cx="497.8" cy="285.2" r="1.9" fill="#24934a" stroke="#111" stroke-width="1.0"/>
<circle cx="505.6" cy="289" r="1.9" fill="#24934a" stroke="#111" stroke-width="1.0"/>
<circle cx="497.8" cy="291.9" r="1.9" fill="#24934a" stroke="#111" stroke-width="1.0"/>
<circle cx="497.8" cy="296.9" r="1.9" fill="#24934a" stroke="#111" stroke-width="1.0"/>
<text x="562.8" y="20.3" font-size="25" font-weight="normal" fill="#231f20" text-anchor="start" textLength="15.4" lengthAdjust="spacingAndGlyphs" >C</text>
<path d="M665.60 29.20 C664.50 20.00 659.00 13.50 650.00 12.60 C640.00 11.80 628.00 14.00 619.50 16.60 L618.50 17.20 C602.00 21.50 586.00 29.00 578.50 39.00 C572.50 47.00 570.80 58.00 571.60 69.00 C572.30 78.00 575.00 84.50 579.30 88.50 C580.50 91.50 582.50 95.50 586.00 99.50 C590.00 103.50 595.50 106.20 601.00 107.00 L640.00 112.00 L665.60 112.00 Z" fill="#fff"/>
<path d="M665.60 29.20 C664.50 20.00 659.00 13.50 650.00 12.60 C640.00 11.80 628.00 14.00 619.50 16.60 L618.50 17.20 C602.00 21.50 586.00 29.00 578.50 39.00 C572.50 47.00 570.80 58.00 571.60 69.00 C572.30 78.00 575.00 84.50 579.30 88.50 C580.50 91.50 582.50 95.50 586.00 99.50 C590.00 103.50 595.50 106.20 601.00 107.00" fill="none" stroke="#262626" stroke-width="1.05"/>
<path d="M667.00 29.20 C668.10 20.00 673.60 13.50 682.60 12.60 C692.60 11.80 704.60 14.00 713.10 16.60 L714.10 17.20 C730.60 21.50 746.60 29.00 754.10 39.00 C760.10 47.00 761.80 58.00 761.00 69.00 C760.30 78.00 757.60 84.50 753.30 88.50 C752.10 91.50 750.10 95.50 746.60 99.50 C742.60 103.50 737.10 106.20 731.60 107.00 L692.60 112.00 L667.00 112.00 Z" fill="#fff"/>
<path d="M667.00 29.20 C668.10 20.00 673.60 13.50 682.60 12.60 C692.60 11.80 704.60 14.00 713.10 16.60 L714.10 17.20 C730.60 21.50 746.60 29.00 754.10 39.00 C760.10 47.00 761.80 58.00 761.00 69.00 C760.30 78.00 757.60 84.50 753.30 88.50 C752.10 91.50 750.10 95.50 746.60 99.50 C742.60 103.50 737.10 106.20 731.60 107.00" fill="none" stroke="#262626" stroke-width="1.05"/>
<path d="M621.30 58.50 C621.00 55.00 626.00 53.00 631.00 53.20 C637.00 53.50 640.50 57.50 641.50 61.50 C642.30 64.50 643.50 67.00 643.30 68.60 C640.00 64.50 636.00 62.00 630.00 61.50 C625.00 61.30 621.60 61.00 621.30 58.50 Z" fill="#dcdcdc"/>
<path d="M711.30 58.50 C711.60 55.00 706.60 53.00 701.60 53.20 C695.60 53.50 692.10 57.50 691.10 61.50 C690.30 64.50 689.10 67.00 689.30 68.60 C692.60 64.50 696.60 62.00 702.60 61.50 C707.60 61.30 711.00 61.00 711.30 58.50 Z" fill="#dcdcdc"/>
<path d="M601.40 107.00 L615.00 98.00" stroke="#222" stroke-width="1.0" fill="none"/>
<path d="M731.20 107.00 L717.60 98.00" stroke="#222" stroke-width="1.0" fill="none"/>
<circle cx="616" cy="97.4" r="1.3" fill="#fff" stroke="#222" stroke-width="0.8"/>
<circle cx="716.5999999999999" cy="97.4" r="1.3" fill="#fff" stroke="#222" stroke-width="0.8"/>
<path d="M665.5,29.5 L665.5,63.5 L664.6,66.4 L665.5,69.3 L665.5,76 L664.3,78.9 L665.2,82 L663.6,86.5 C663.6,89 665,91.5 665.1,94 L665.2,110" fill="none" stroke="#444" stroke-width="0.75"/>
<path d="M667.1,29.5 L667.1,63.5 L668,66.4 L667.1,69.3 L667.1,76 L668.3,78.9 L667.4,82 L669,86.5 C669,89 668.5,91.5 668.4,94 L668.3,110" fill="none" stroke="#444" stroke-width="0.75"/>
<g stroke="#555" stroke-width="0.7" stroke-dasharray="2.2,1.6">
<line x1="644" y1="73.4" x2="688" y2="73.4"/>
<line x1="644.4" y1="88.4" x2="689.2" y2="88.4"/>
</g>
<circle cx="649.8" cy="79.2" r="2.8" fill="#1e9a45" stroke="#222" stroke-width="0.6"/>
<circle cx="650.7" cy="76.6" r="2.8" fill="#fff" stroke="#222" stroke-width="0.6"/>
<circle cx="656.1" cy="77.4" r="2.8" fill="#fff" stroke="#222" stroke-width="0.6"/>
<circle cx="654" cy="85.9" r="2.8" fill="#1e9a45" stroke="#222" stroke-width="0.6"/>
<circle cx="663.6" cy="84.3" r="2.8" fill="#1e9a45" stroke="#222" stroke-width="0.6"/>
<circle cx="672.4" cy="83.2" r="2.8" fill="#1e9a45" stroke="#222" stroke-width="0.6"/>
<circle cx="680.8" cy="83.2" r="2.8" fill="#1e9a45" stroke="#222" stroke-width="0.6"/>
<circle cx="678.3" cy="84.6" r="2.8" fill="#1e9a45" stroke="#222" stroke-width="0.6"/>
<circle cx="659" cy="84.4" r="2.8" fill="#fff" stroke="#222" stroke-width="0.6"/>
<circle cx="674.1" cy="84.8" r="2.8" fill="#fff" stroke="#222" stroke-width="0.6"/>
<circle cx="675" cy="75.6" r="2.8" fill="#fff" stroke="#222" stroke-width="0.6"/>
<circle cx="677" cy="80.2" r="2.8" fill="#fff" stroke="#222" stroke-width="0.6"/>
<circle cx="662.8" cy="87.8" r="2.8" fill="#1e9a45" stroke="#222" stroke-width="0.6"/>
<circle cx="670.8" cy="87.4" r="2.8" fill="#1e9a45" stroke="#222" stroke-width="0.6"/>
<circle cx="657.4" cy="89" r="2.8" fill="#fff" stroke="#222" stroke-width="0.6"/>
<circle cx="677.5" cy="89" r="2.8" fill="#fff" stroke="#222" stroke-width="0.6"/>
<path d="M666.00 110.30 C664.50 104.50 661.00 99.50 655.00 97.80 C651.00 96.80 647.00 96.80 643.10 97.10 C630.00 98.30 612.00 102.50 600.70 108.20 C588.00 114.50 577.50 126.00 572.50 138.00 C568.50 148.00 569.00 157.00 571.60 163.00 L575.30 171.50 C577.00 176.00 578.50 180.00 580.30 182.50 C584.00 187.00 590.00 191.00 596.00 193.30 L600.70 194.40 C599.30 197.50 600.50 201.50 604.90 203.50 L640.00 200.00 L666.00 200.00 Z" fill="#fff"/>
<path d="M666.00 110.30 C664.50 104.50 661.00 99.50 655.00 97.80 C651.00 96.80 647.00 96.80 643.10 97.10 C630.00 98.30 612.00 102.50 600.70 108.20 C588.00 114.50 577.50 126.00 572.50 138.00 C568.50 148.00 569.00 157.00 571.60 163.00 L575.30 171.50 C577.00 176.00 578.50 180.00 580.30 182.50 C584.00 187.00 590.00 191.00 596.00 193.30 L600.70 194.40 C599.30 197.50 600.50 201.50 604.90 203.50" fill="none" stroke="#262626" stroke-width="1.05"/>
<path d="M667.20 110.30 C668.70 104.50 672.20 99.50 678.20 97.80 C682.20 96.80 686.20 96.80 690.10 97.10 C703.20 98.30 721.20 102.50 732.50 108.20 C745.20 114.50 755.70 126.00 760.70 138.00 C764.70 148.00 764.20 157.00 761.60 163.00 L757.90 171.50 C756.20 176.00 754.70 180.00 752.90 182.50 C749.20 187.00 743.20 191.00 737.20 193.30 L732.50 194.40 C733.90 197.50 732.70 201.50 728.30 203.50 L693.20 200.00 L667.20 200.00 Z" fill="#fff"/>
<path d="M667.20 110.30 C668.70 104.50 672.20 99.50 678.20 97.80 C682.20 96.80 686.20 96.80 690.10 97.10 C703.20 98.30 721.20 102.50 732.50 108.20 C745.20 114.50 755.70 126.00 760.70 138.00 C764.70 148.00 764.20 157.00 761.60 163.00 L757.90 171.50 C756.20 176.00 754.70 180.00 752.90 182.50 C749.20 187.00 743.20 191.00 737.20 193.30 L732.50 194.40 C733.90 197.50 732.70 201.50 728.30 203.50" fill="none" stroke="#262626" stroke-width="1.05"/>
<ellipse cx="643.1" cy="96.9" rx="1.9" ry="0.9" fill="#111"/>
<ellipse cx="690" cy="96.9" rx="1.7" ry="0.7" fill="#777"/>
<path d="M633.40 132.90 C624.00 134.00 614.00 141.00 611.80 149.60 C611.00 153.50 611.50 156.50 612.80 157.40 C616.00 156.30 620.00 155.50 623.60 155.50 C630.00 155.50 637.00 158.50 640.30 162.30 C642.00 164.50 643.50 167.00 644.50 170.00 L647.80 170.00 C647.80 160.00 646.80 151.00 644.80 144.00 C643.50 139.00 641.00 134.00 638.30 133.50 C636.50 133.00 635.00 132.90 633.40 132.90 Z" fill="#dcdcdc"/>
<path d="M699.80 132.90 C709.20 134.00 719.20 141.00 721.40 149.60 C722.20 153.50 721.70 156.50 720.40 157.40 C717.20 156.30 713.20 155.50 709.60 155.50 C703.20 155.50 696.20 158.50 692.90 162.30 C691.20 164.50 689.70 167.00 688.70 170.00 L685.40 170.00 C685.40 160.00 686.40 151.00 688.40 144.00 C689.70 139.00 692.20 134.00 694.90 133.50 C696.70 133.00 698.20 132.90 699.80 132.90 Z" fill="#dcdcdc"/>
<path d="M645.50 169.00 C641.00 174.00 636.00 180.00 629.50 189.00" stroke="#e4e4e4" stroke-width="3" fill="none"/>
<path d="M687.70 169.00 C692.20 174.00 697.20 180.00 703.70 189.00" stroke="#e4e4e4" stroke-width="3" fill="none"/>
<path d="M633.40 190.50 C635.00 186.50 643.00 186.50 645.20 190.00 C644.00 193.00 635.00 193.50 633.40 190.50 Z" fill="#dedede"/>
<path d="M699.80 190.50 C698.20 186.50 690.20 186.50 688.00 190.00 C689.20 193.00 698.20 193.50 699.80 190.50 Z" fill="#dedede"/>
<path d="M642.00 174.40 C643.00 172.60 645.50 172.80 646.50 174.50 L649.50 182.00 C647.00 180.00 644.00 177.50 642.00 174.40 Z" fill="#111"/>
<path d="M691.20 174.40 C690.20 172.60 687.70 172.80 686.70 174.50 L683.70 182.00 C686.20 180.00 689.20 177.50 691.20 174.40 Z" fill="#111"/>
<path d="M600.90 194.60 L611.80 188.20" stroke="#2a2a2a" stroke-width="0.8" fill="none"/>
<path d="M732.30 194.60 L721.40 188.20" stroke="#2a2a2a" stroke-width="0.8" fill="none"/>
<path d="M665.7,109 L665.7,131 C664.2,134 664.2,139 665.7,142 L666.1,146 L666.1,171 L665.7,174 C664,177 664,181 666.8,184.5 L666.8,191.8" fill="none" stroke="#3a3a3a" stroke-width="0.8"/>
<path d="M667.7,109 L667.7,131 C669.2,134 669.2,139 667.7,142 L667.3,146 L667.3,171 L667.7,174 C669.4,177 669.4,181 666.8,184.5" fill="none" stroke="#3a3a3a" stroke-width="0.8"/>
<g stroke="#555" stroke-width="0.7" stroke-dasharray="2.2,1.6">
<line x1="646.3" y1="152.4" x2="686.5" y2="152.4"/>
<line x1="646.5" y1="176.3" x2="686.5" y2="176.3"/>
</g>
<circle cx="651.7" cy="158.4" r="2.8" fill="#1e9a45" stroke="#222" stroke-width="0.6"/>
<circle cx="655.9" cy="155" r="2.8" fill="#1e9a45" stroke="#222" stroke-width="0.6"/>
<circle cx="662.6" cy="157.6" r="2.8" fill="#1e9a45" stroke="#222" stroke-width="0.6"/>
<circle cx="662.6" cy="160.1" r="2.8" fill="#1e9a45" stroke="#222" stroke-width="0.6"/>
<circle cx="666" cy="162.2" r="2.8" fill="#1e9a45" stroke="#222" stroke-width="0.6"/>
<circle cx="662.2" cy="167.6" r="2.8" fill="#1e9a45" stroke="#222" stroke-width="0.6"/>
<circle cx="672.7" cy="159.2" r="2.8" fill="#1e9a45" stroke="#222" stroke-width="0.6"/>
<circle cx="678.9" cy="163" r="2.8" fill="#1e9a45" stroke="#222" stroke-width="0.6"/>
<circle cx="676" cy="167.2" r="2.8" fill="#1e9a45" stroke="#222" stroke-width="0.6"/>
<circle cx="669.3" cy="166.4" r="2.8" fill="#1e9a45" stroke="#222" stroke-width="0.6"/>
<circle cx="672.2" cy="169.3" r="2.8" fill="#1e9a45" stroke="#222" stroke-width="0.6"/>
<circle cx="671.8" cy="172.6" r="2.8" fill="#1e9a45" stroke="#222" stroke-width="0.6"/>
<circle cx="655.9" cy="159.7" r="2.8" fill="#fff" stroke="#222" stroke-width="0.6"/>
<circle cx="658" cy="164.7" r="2.8" fill="#fff" stroke="#222" stroke-width="0.6"/>
<circle cx="661.8" cy="162.6" r="2.8" fill="#fff" stroke="#222" stroke-width="0.6"/>
<circle cx="672.7" cy="164.7" r="2.8" fill="#fff" stroke="#222" stroke-width="0.6"/>
<circle cx="678.5" cy="158.4" r="2.8" fill="#fff" stroke="#222" stroke-width="0.6"/>
<circle cx="684.8" cy="154.2" r="2.8" fill="#fff" stroke="#222" stroke-width="0.6"/>
<path d="M666.80 206.00 L660.20 198.20 C657.50 195.50 653.00 194.30 648.00 194.30 C632.00 194.00 616.00 198.50 604.90 203.50 C593.00 208.00 582.00 215.00 575.50 224.00 C569.00 233.00 567.00 244.00 567.40 254.00 C568.00 264.00 573.00 273.00 580.00 280.30 C583.00 283.50 586.00 285.50 588.50 286.80 L599.30 290.30 L595.40 293.00 C597.00 296.50 600.00 298.50 604.00 300.50 C612.00 304.50 625.00 310.00 635.40 312.50 C643.00 313.00 650.00 309.50 655.50 304.00 C659.00 299.00 660.00 294.00 660.60 291.00 L661.50 287.00 L663.60 282.50 L663.10 279.00 L665.10 274.00 L664.50 271.00 L666.80 265.50 Z" fill="#fff"/>
<path d="M666.80 206.00 L660.20 198.20 C657.50 195.50 653.00 194.30 648.00 194.30 C632.00 194.00 616.00 198.50 604.90 203.50 C593.00 208.00 582.00 215.00 575.50 224.00 C569.00 233.00 567.00 244.00 567.40 254.00 C568.00 264.00 573.00 273.00 580.00 280.30 C583.00 283.50 586.00 285.50 588.50 286.80 L599.30 290.30 L595.40 293.00 C597.00 296.50 600.00 298.50 604.00 300.50 C612.00 304.50 625.00 310.00 635.40 312.50 C643.00 313.00 650.00 309.50 655.50 304.00 C659.00 299.00 660.00 294.00 660.60 291.00 L661.50 287.00 L663.60 282.50 L663.10 279.00 L665.10 274.00 L664.50 271.00 L666.80 265.50" fill="none" stroke="#262626" stroke-width="1.05"/>
<path d="M666.40 206.00 L673.00 198.20 C675.70 195.50 680.20 194.30 685.20 194.30 C701.20 194.00 717.20 198.50 728.30 203.50 C740.20 208.00 751.20 215.00 757.70 224.00 C764.20 233.00 766.20 244.00 765.80 254.00 C765.20 264.00 760.20 273.00 753.20 280.30 C750.20 283.50 747.20 285.50 744.70 286.80 L733.90 290.30 L737.80 293.00 C736.20 296.50 733.20 298.50 729.20 300.50 C721.20 304.50 708.20 310.00 697.80 312.50 C690.20 313.00 683.20 309.50 677.70 304.00 C674.20 299.00 673.20 294.00 672.60 291.00 L671.70 287.00 L669.60 282.50 L670.10 279.00 L668.10 274.00 L668.70 271.00 L666.40 265.50 Z" fill="#fff"/>
<path d="M666.40 206.00 L673.00 198.20 C675.70 195.50 680.20 194.30 685.20 194.30 C701.20 194.00 717.20 198.50 728.30 203.50 C740.20 208.00 751.20 215.00 757.70 224.00 C764.20 233.00 766.20 244.00 765.80 254.00 C765.20 264.00 760.20 273.00 753.20 280.30 C750.20 283.50 747.20 285.50 744.70 286.80 L733.90 290.30 L737.80 293.00 C736.20 296.50 733.20 298.50 729.20 300.50 C721.20 304.50 708.20 310.00 697.80 312.50 C690.20 313.00 683.20 309.50 677.70 304.00 C674.20 299.00 673.20 294.00 672.60 291.00 L671.70 287.00 L669.60 282.50 L670.10 279.00 L668.10 274.00 L668.70 271.00 L666.40 265.50" fill="none" stroke="#262626" stroke-width="1.05"/>
<path d="M600.60 250.00 C600.80 242.00 604.50 236.00 609.90 232.70 C616.00 228.50 626.00 224.50 634.10 224.20 C640.50 224.20 645.50 231.00 648.00 238.50 C649.50 243.00 650.80 247.00 651.40 250.00 L648.00 254.60 C646.00 247.00 641.00 239.00 635.30 236.20 C631.00 234.50 627.00 233.90 621.40 233.90 C614.50 237.50 609.50 244.00 607.50 252.30 C606.80 257.00 607.30 261.00 608.70 263.90 C611.50 267.00 614.50 268.50 617.90 269.70 C621.00 271.50 623.50 274.50 624.90 277.70 L627.80 289.30 L626.60 289.50 C625.00 284.50 623.50 281.50 621.70 279.00 C619.50 276.00 616.00 273.50 612.50 271.00 C608.50 268.00 605.80 265.50 604.50 262.50 C602.00 258.50 600.50 254.50 600.60 250.00 Z" fill="#e2e2e2"/>
<path d="M732.60 250.00 C732.40 242.00 728.70 236.00 723.30 232.70 C717.20 228.50 707.20 224.50 699.10 224.20 C692.70 224.20 687.70 231.00 685.20 238.50 C683.70 243.00 682.40 247.00 681.80 250.00 L685.20 254.60 C687.20 247.00 692.20 239.00 697.90 236.20 C702.20 234.50 706.20 233.90 711.80 233.90 C718.70 237.50 723.70 244.00 725.70 252.30 C726.40 257.00 725.90 261.00 724.50 263.90 C721.70 267.00 718.70 268.50 715.30 269.70 C712.20 271.50 709.70 274.50 708.30 277.70 L705.40 289.30 L706.60 289.50 C708.20 284.50 709.70 281.50 711.50 279.00 C713.70 276.00 717.20 273.50 720.70 271.00 C724.70 268.00 727.40 265.50 728.70 262.50 C731.20 258.50 732.70 254.50 732.60 250.00 Z" fill="#e2e2e2"/>
<path d="M650.50 262.00 C653.00 268.00 654.00 274.00 653.70 278.00 C653.50 284.00 652.00 290.00 649.10 296.20" stroke="#e4e4e4" stroke-width="1.8" fill="none"/>
<path d="M682.70 262.00 C680.20 268.00 679.20 274.00 679.50 278.00 C679.70 284.00 681.20 290.00 684.10 296.20" stroke="#e4e4e4" stroke-width="1.8" fill="none"/>
<path d="M627.20 289.30 C629.50 292.00 632.00 294.50 635.30 296.20" stroke="#e6e6e6" stroke-width="1.2" fill="none"/>
<path d="M706.00 289.30 C703.70 292.00 701.20 294.50 697.90 296.20" stroke="#e6e6e6" stroke-width="1.2" fill="none"/>
<path d="M630.10 287.00 C630.10 283.50 638.10 283.50 638.10 287.00 C638.10 290.50 630.10 290.50 630.10 287.00 Z" fill="#dadada"/>
<path d="M703.10 287.00 C703.10 283.50 695.10 283.50 695.10 287.00 C695.10 290.50 703.10 290.50 703.10 287.00 Z" fill="#dadada"/>
<path d="M606.00 301.50 C610.00 300.00 617.00 301.50 621.00 306.00 C616.00 307.00 610.00 305.00 606.00 301.50 Z" fill="#e8e8e8"/>
<path d="M727.20 301.50 C723.20 300.00 716.20 301.50 712.20 306.00 C717.20 307.00 723.20 305.00 727.20 301.50 Z" fill="#e8e8e8"/>
<path d="M624.90 233.90 C631.00 234.00 637.00 236.50 641.50 242.00 C645.00 246.50 647.50 251.00 648.50 255.00 L650.80 263.50" stroke="#111" stroke-width="1.2" fill="none"/>
<path d="M708.30 233.90 C702.20 234.00 696.20 236.50 691.70 242.00 C688.20 246.50 685.70 251.00 684.70 255.00 L682.40 263.50" stroke="#111" stroke-width="1.2" fill="none"/>
<path d="M647.60 255.50 L649.30 255.00 L652.20 264.80 L650.20 265.60 Z" fill="#111"/>
<path d="M685.60 255.50 L683.90 255.00 L681.00 264.80 L683.00 265.60 Z" fill="#111"/>
<path d="M660.2,198.2 L666.8,191.8 L673.4,198.2" fill="none" stroke="#2a2a2a" stroke-width="0.8"/>
<path d="M666,206 L666,224.9 C664.6,227.5 664.6,232 666,234.6 L666,247 C662.5,251 662.5,258.5 666.3,262.5 L667.3,266 M667.6,206 L667.6,224.9 C669,227.5 669,232 667.6,234.6 L667.6,247 C671.1,251 671.1,258.5 667.3,262.5 L666.3,266" fill="none" stroke="#444" stroke-width="0.75"/>
<g stroke="#555" stroke-width="0.7" stroke-dasharray="2.2,1.6">
<line x1="652.1" y1="249.3" x2="682.8" y2="249.3"/>
<line x1="652.1" y1="265.3" x2="682.8" y2="265.3"/>
</g>
<circle cx="660.5" cy="254.3" r="2.8" fill="#fff" stroke="#222" stroke-width="0.6"/>
<circle cx="674.5" cy="257.4" r="2.8" fill="#fff" stroke="#222" stroke-width="0.6"/>
<line x1="633" y1="321.9" x2="648.8" y2="321.9" stroke="#222" stroke-width="1"/>
<circle cx="639.9" cy="321.9" r="4.7" fill="#fff" stroke="#111" stroke-width="1.2"/>
<line x1="670.1" y1="321.9" x2="683.5" y2="321.9" stroke="#222" stroke-width="1"/>
<circle cx="676.8" cy="321.9" r="4.6" fill="#0f6a2c" stroke="#111" stroke-width="1.2"/>
<text x="648.9" y="325.6" font-size="10.2" font-weight="normal" fill="#231f20" text-anchor="start" textLength="18.2" lengthAdjust="spacingAndGlyphs" stroke="#231f20" stroke-width="0.15" >VEH</text>
<text x="684.7" y="325.6" font-size="10.2" font-weight="normal" fill="#231f20" text-anchor="start" textLength="14.8" lengthAdjust="spacingAndGlyphs" stroke="#231f20" stroke-width="0.15" >PIC</text>
</svg>
</body></html>
